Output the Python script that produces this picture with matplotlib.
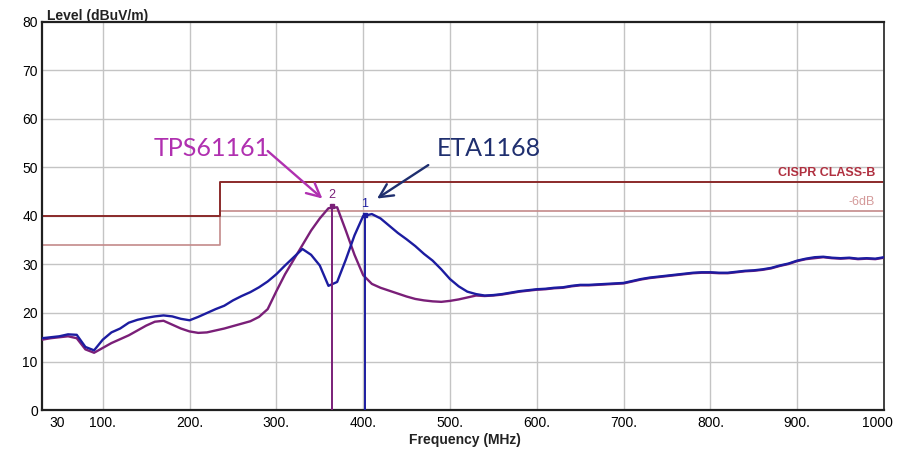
import matplotlib
matplotlib.use("Agg")
import matplotlib.pyplot as plt
import numpy as np

# ---- data ----
freq = list(range(30, 1001, 10))

eta1168 = [14.8, 15.0, 15.2, 15.6, 15.5, 13.0, 12.3, 14.5, 16.0, 16.8,
           18.0, 18.6, 19.0, 19.3, 19.5, 19.3, 18.8, 18.5, 19.2, 20.0,
           20.8, 21.5, 22.6, 23.5, 24.3, 25.3, 26.5, 28.0, 29.8, 31.5,
           33.2, 32.0, 29.8, 25.6, 26.4, 31.0, 36.0, 40.0, 40.4, 39.5,
           38.0, 36.5, 35.2, 33.8, 32.2, 30.8, 29.0, 27.0, 25.5, 24.4,
           23.9, 23.6, 23.7, 23.9, 24.2, 24.5, 24.7, 24.9, 25.0, 25.2,
           25.3, 25.6, 25.8, 25.8, 25.9, 26.0, 26.1, 26.2, 26.6, 27.0,
           27.3, 27.5, 27.7, 27.9, 28.1, 28.3, 28.4, 28.4, 28.3, 28.3,
           28.5, 28.7, 28.8, 29.0, 29.3, 29.8, 30.2, 30.8, 31.2, 31.5,
           31.6, 31.4, 31.3, 31.4, 31.2, 31.3, 31.2, 31.5]

tps61161 = [14.5, 14.8, 15.0, 15.2, 14.8, 12.5, 11.8, 12.8, 13.8, 14.6,
            15.4, 16.4, 17.4, 18.2, 18.4, 17.6, 16.8, 16.2, 15.9, 16.0,
            16.4, 16.8, 17.3, 17.8, 18.3, 19.2, 20.8, 24.5, 28.0, 31.0,
            34.0, 37.0, 39.5, 41.6, 41.8, 37.0, 32.0, 27.8, 26.0, 25.2,
            24.6, 24.0, 23.4, 22.9, 22.6, 22.4, 22.3, 22.5, 22.8, 23.2,
            23.6, 23.5, 23.6, 23.8, 24.1, 24.4, 24.6, 24.8, 24.9, 25.1,
            25.2, 25.5, 25.7, 25.7, 25.8, 25.9, 26.0, 26.1, 26.5, 26.9,
            27.2, 27.4, 27.6, 27.8, 28.0, 28.2, 28.3, 28.3, 28.2, 28.2,
            28.4, 28.6, 28.7, 28.9, 29.2, 29.7, 30.1, 30.7, 31.1, 31.3,
            31.5, 31.3, 31.2, 31.3, 31.1, 31.2, 31.1, 31.4]

limit_freq = [30, 235, 235, 1000]
limit_cispr = [40, 40, 47, 47]
limit_6db = [34, 34, 41, 41]

marker_freq = [402, 364]
marker_level = [40.2, 42.0]
marker_names = ["1", "2"]

xtick_vals = [30, 100, 200, 300, 400, 500, 600, 700, 800, 900, 1000]
xtick_labels = ["30", "100.", "200.", "300.", "400.", "500.", "600.",
                "700.", "800.", "900.", "1000"]
ytick_vals = [0, 10, 20, 30, 40, 50, 60, 70, 80]

# ---- figure ----
W, H = 923, 451
fig = plt.figure(figsize=(W / 100, H / 100), dpi=100)
L, R, T, B = 42, 884, 22, 410
ax = fig.add_axes([L / W, 1 - B / H, (R - L) / W, (B - T) / H])

ax.set_xlim(30, 1000)
ax.set_ylim(0, 80)

blue = "#1c1ca0"
purple = "#7a1f78"
red = "#8b2a2a"
pink = "#c48a8a"

# grid
for v in ytick_vals[1:-1]:
    ax.axhline(v, color="#c4c4c4", lw=1.0, zorder=0)
for v in xtick_vals[1:-1]:
    ax.axvline(v, color="#c4c4c4", lw=1.0, zorder=0)

# limit lines
ax.plot(limit_freq, limit_6db, color=pink, lw=1.2, zorder=2)
ax.plot(limit_freq, limit_cispr, color=red, lw=1.4, zorder=2)
ax.text(990, 47.6, "CISPR CLASS-B", color="#b03040", fontsize=9,
        fontweight="bold", ha="right", va="bottom", family="Liberation Sans")
ax.text(990, 41.6, "-6dB", color="#d49a9a", fontsize=9,
        ha="right", va="bottom", family="Liberation Sans")

# traces
ax.plot(freq, tps61161, color=purple, lw=1.7, zorder=3)
ax.plot(freq, eta1168, color=blue, lw=1.7, zorder=4)

# markers
mcol = [blue, purple]
for f, lv, nm, c in zip(marker_freq, marker_level, marker_names, mcol):
    ax.plot([f, f], [0, lv], color=c, lw=1.4, zorder=5)
    ax.plot([f], [lv], marker="s", ms=3, color=c, zorder=6)
    ax.text(f, lv + 1.0, nm, color=c, fontsize=9, ha="center", va="bottom",
            family="Liberation Sans")

# annotations
magenta = "#b030b0"
navy = "#1f2f6f"
ax.text(159, 54.0, "TPS61161", color=magenta, fontsize=18, family="Lato",
        ha="left", va="center", zorder=7)
ax.annotate("", xy=(353, 43.6), xytext=(290, 53.4),
            arrowprops=dict(arrowstyle="->", color=magenta, lw=1.7,
                            mutation_scale=24, shrinkA=0, shrinkB=0),
            zorder=7)
ax.text(485, 54.0, "ETA1168", color=navy, fontsize=18, family="Lato",
        ha="left", va="center", zorder=7)
ax.annotate("", xy=(416, 43.6), xytext=(475, 50.5),
            arrowprops=dict(arrowstyle="->", color=navy, lw=1.7,
                            mutation_scale=24, shrinkA=0, shrinkB=0),
            zorder=7)

# axes styling
for s in ["left", "bottom", "top"]:
    ax.spines[s].set_linewidth(1.6)
    ax.spines[s].set_color("#202020")
ax.spines["right"].set_linewidth(1.4)
ax.spines["right"].set_color("#404040")

ax.set_yticks(ytick_vals)
ax.set_yticklabels([str(v) for v in ytick_vals], fontsize=10,
                   family="Liberation Sans")
ax.tick_params(axis="y", length=0, pad=3)
ax.set_xticks([])
for v, lab in zip(xtick_vals, xtick_labels):
    if v == 30:
        x = 48
    elif v == 1000:
        x = 992
    else:
        x = v
    ax.text(x, -1.2, lab, fontsize=10, ha="center", va="top",
            family="Liberation Sans", transform=ax.transData)

fig.text(47 / W, 1 - 16 / H, "Level (dBuV/m)", fontsize=10, fontweight="bold",
         ha="left", va="center", family="Liberation Sans", color="#222222")
fig.text(465 / W, 1 - 440 / H, "Frequency (MHz)", fontsize=10,
         fontweight="bold", ha="center", va="center",
         family="Liberation Sans", color="#222222")

fig.savefig("out.png", dpi=100, facecolor="white")
